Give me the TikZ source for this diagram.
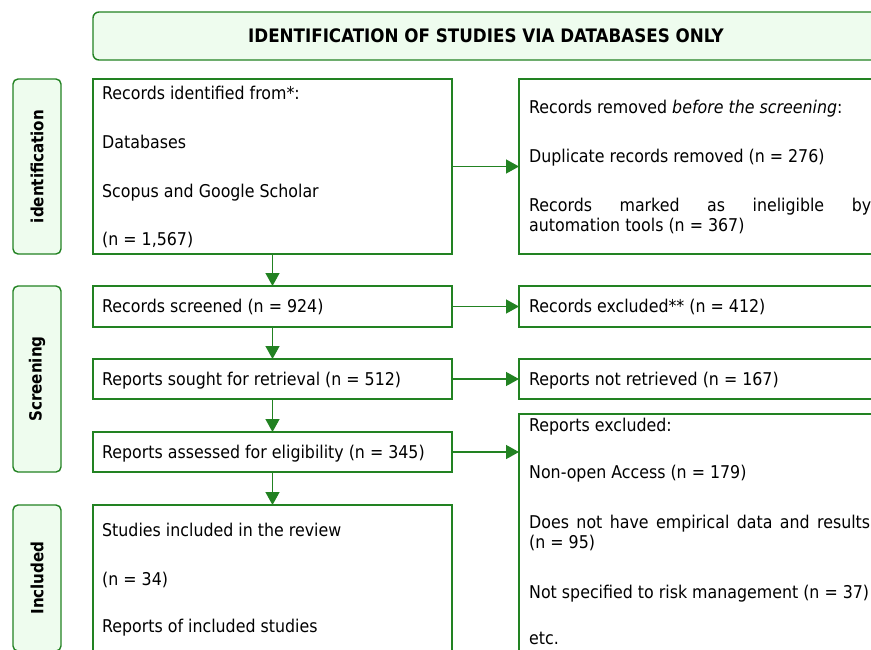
\documentclass[tikz,border=0pt]{standalone}
\usepackage{fontspec}
\setmainfont{DejaVu Sans Condensed}
\usetikzlibrary{arrows.meta}
\definecolor{pgreen}{RGB}{34,130,34}
\definecolor{pfill}{RGB}{238,252,238}
\begin{document}
\begin{tikzpicture}[x=1pt,y=-1pt,
  box/.style={draw=pgreen,line width=1.4pt,anchor=north west,inner sep=0pt,outer sep=0pt},
  phase/.style={draw=pgreen,fill=pfill,rounded corners=5pt,line width=1.4pt,anchor=north west,inner sep=0pt,outer sep=0pt},
  txt/.style={anchor=base west,inner sep=0pt,font=\fontsize{17.6}{20}\selectfont},
  lab/.style={inner sep=0pt,font=\bfseries\fontsize{16.8}{20}\selectfont,rotate=90},
  arr/.style={draw=pgreen,line width=1.4pt,-{Triangle[length=13pt,width=14pt]}}]
\useasboundingbox (0,0) rectangle (871,649);
\clip (0,0) rectangle (871,649);
% header
\node[phase,rounded corners=6pt,minimum width=786pt,minimum height=48pt,font=\bfseries\fontsize{18.6}{20}\selectfont] (hdr) at (93,12) {IDENTIFICATION OF STUDIES VIA DATABASES ONLY};
% phase boxes
\node[phase,minimum width=48pt,minimum height=175pt] (s1) at (13,79) {};
\node[phase,minimum width=48pt,minimum height=186pt] (s2) at (13,286) {};
\node[phase,minimum width=48pt,minimum height=146pt] (s3) at (13,505) {};
\node[lab] (l1) at (s1.center) {identification};
\node[lab] (l2) at (s2.center) {Screening};
\node[lab] (l3) at (s3.center) {Included};
% left boxes
\node[box,minimum width=359pt,minimum height=175pt] (b1) at (93,79) {};
\node[box,minimum width=359pt,minimum height=41pt] (b2) at (93,286) {};
\node[box,minimum width=359pt,minimum height=40pt] (b3) at (93,359) {};
\node[box,minimum width=359pt,minimum height=40pt] (b4) at (93,432) {};
\node[box,minimum width=359pt,minimum height=160pt] (b5) at (93,505) {};
% right boxes
\node[box,minimum width=361pt,minimum height=175pt] (r1) at (519,79) {};
\node[box,minimum width=361pt,minimum height=41pt] (r2) at (519,286) {};
\node[box,minimum width=361pt,minimum height=40pt] (r3) at (519,359) {};
\node[box,minimum width=361pt,minimum height=260pt] (r4) at (519,414) {};
% texts left
\node[txt] (t1a) at (102,99) {Records identified from*:};
\node[txt] (t1b) at (102,148) {Databases};
\node[txt] (t1c) at (102,197) {Scopus and Google Scholar};
\node[txt] (t1d) at (102,245) {(n = 1,567)};
\node[txt] (t2) at (102,312) {Records screened (n = 924)};
\node[txt] (t3) at (102,385) {Reports sought for retrieval (n = 512)};
\node[txt] (t4) at (102,458) {Reports assessed for eligibility (n = 345)};
\node[txt] (t5a) at (102,536) {Studies included in the review};
\node[txt] (t5b) at (102,585) {(n = 34)};
\node[txt] (t5c) at (102,632) {Reports of included studies};
% texts right
\node[txt] (u1a) at (529,113) {Records removed \emph{before the screening}:};
\node[txt] (u1b) at (529,162) {Duplicate records removed (n = 276)};
\node[txt] (u1c) at (529,211) {\makebox[342pt][s]{Records marked as ineligible by}};
\node[txt] (u1d) at (529,231) {automation tools (n = 367)};
\node[txt] (u2) at (529,312) {Records excluded** (n = 412)};
\node[txt] (u3) at (529,385) {Reports not retrieved (n = 167)};
\node[txt] (u4a) at (529,431) {Reports excluded:};
\node[txt] (u4b) at (529,478) {Non-open Access (n = 179)};
\node[txt] (u4c) at (529,528) {\makebox[341pt][s]{Does not have empirical data and results}};
\node[txt] (u4d) at (529,548) {(n = 95)};
\node[txt] (u4e) at (529,598) {Not specified to risk management (n = 37)};
\node[txt] (u4f) at (529,644) {etc.};
% arrows
\draw[arr] (b1.south) -- (b2.north);
\draw[arr] (b2.south) -- (b3.north);
\draw[arr] (b3.south) -- (b4.north);
\draw[arr] (b4.south) -- (b5.north);
\draw[arr] (b1.east) -- (r1.west);
\draw[arr] (b2.east) -- (r2.west);
\draw[arr] (b3.east) -- (r3.west);
\draw[arr] (b4.east) -- (b4.east -| r4.west);
\end{tikzpicture}
\end{document}
